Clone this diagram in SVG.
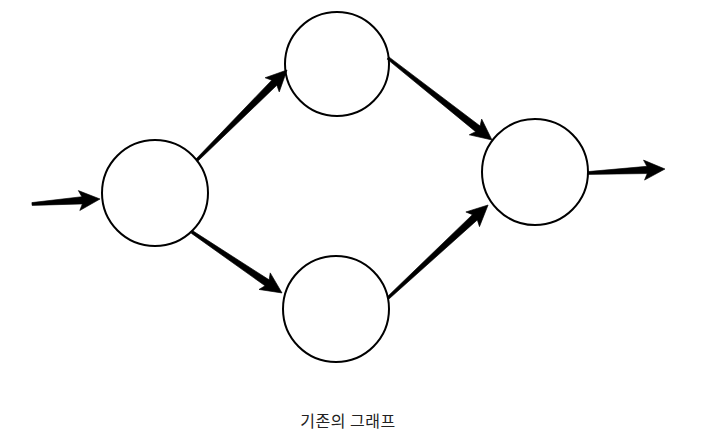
<svg xmlns="http://www.w3.org/2000/svg" width="715" height="442" viewBox="0 0 715 442">
<style>
.node{fill:#fff;stroke:#000;stroke-width:2}
.arr{fill:#000;stroke:#000;stroke-width:0.6;stroke-linejoin:round}
.cap{font-family:"Noto Sans CJK KR","Noto Sans",sans-serif;font-size:16px;fill:#222;text-anchor:middle;letter-spacing:0.5px}
</style>
<rect width="715" height="442" fill="#fff"/>
<g id="n1"><circle class="node" cx="155" cy="193" r="53"/></g>
<g id="n2"><circle class="node" cx="337" cy="64" r="52"/></g>
<g id="n3"><circle class="node" cx="336" cy="309" r="53"/></g>
<g id="n4"><circle class="node" cx="535" cy="172" r="53"/></g>
<g id="connectors">
<path class="arr" transform="translate(32,204) rotate(-4.2)" d="M0,-1.4 L50.2,-3.6 L47.2,-10 L68.2,0 L47.2,10 L50.2,3.6 L0,1.4 Z"/>
<path class="arr" transform="translate(197,160) rotate(-45)" d="M0,-1.4 L109.3,-3.6 L106.3,-10 L127.3,0 L106.3,10 L109.3,3.6 L0,1.4 Z"/>
<path class="arr" transform="translate(388,58) rotate(38.25)" d="M0,-1.4 L114.4,-3.6 L111.4,-10 L132.4,0 L111.4,10 L114.4,3.6 L0,1.4 Z"/>
<path class="arr" transform="translate(588,173) rotate(-2.97)" d="M0,-1.4 L59.1,-3.6 L56.1,-10 L77.1,0 L56.1,10 L59.1,3.6 L0,1.4 Z"/>
<path class="arr" transform="translate(192,232) rotate(34.1)" d="M0,-1.4 L90.7,-3.6 L87.7,-10 L108.7,0 L87.7,10 L90.7,3.6 L0,1.4 Z"/>
<path class="arr" transform="translate(388,298) rotate(-42.9)" d="M0,-1.4 L118.6,-3.6 L115.6,-10 L136.6,0 L115.6,10 L118.6,3.6 L0,1.4 Z"/>
</g>
<text class="cap" x="348" y="427">기존의 그래프</text>
</svg>
